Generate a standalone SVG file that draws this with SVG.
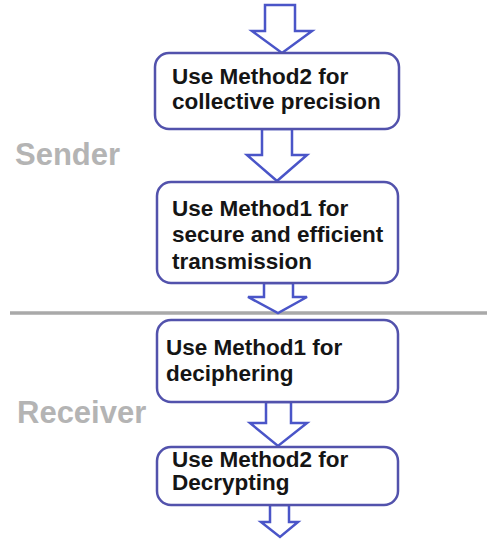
<svg xmlns="http://www.w3.org/2000/svg" width="487" height="540" viewBox="0 0 487 540">
<style>
.box{fill:#fff;stroke:#5252ac;stroke-width:2.5}
.arr{fill:#fff;stroke:#4a55c8;stroke-width:2.5;stroke-linejoin:miter}
.t{font-family:"Liberation Sans",Arial,sans-serif;font-weight:bold;font-size:22.5px;fill:#151515}
.lbl{font-family:"Liberation Sans",Arial,sans-serif;font-weight:bold;font-size:31px;fill:#b4b4b4}
</style>
<rect width="487" height="540" fill="#fff"/>
<line x1="10" y1="313" x2="487" y2="313" stroke="#a9a9a9" stroke-width="3.5"/>
<text class="lbl" x="15" y="165">Sender</text>
<text class="lbl" x="17" y="423">Receiver</text>
<g id="connectors">
<path class="arr" d="M265,5 H295 V31 H312 L282,53 L252,31 H265 Z"/>
<path class="arr" d="M262,129 H292 V155 H307 L277,181 L247,155 H262 Z"/>
<path class="arr" d="M264,283 H293 V297 H307 L278,313 L248,297 H264 Z"/>
<path class="arr" d="M266,402 H291 V423 H307 L278,446 L250,423 H266 Z"/>
<path class="arr" d="M270,505 H289 V522 H298 L280,537 L261,522 H270 Z"/>
</g>
<g id="n1">
<rect class="box" x="155" y="53" width="244" height="76" rx="14"/>
<text class="t" x="172" y="84">Use Method2 for</text>
<text class="t" x="172" y="109">collective precision</text>
</g>
<g id="n2">
<rect class="box" x="157" y="182" width="241" height="101" rx="14"/>
<text class="t" x="172" y="216">Use Method1 for</text>
<text class="t" x="172" y="242">secure and efficient</text>
<text class="t" x="172" y="269">transmission</text>
</g>
<g id="n3">
<rect class="box" x="157" y="320" width="241" height="82" rx="14"/>
<text class="t" x="166" y="355">Use Method1 for</text>
<text class="t" x="166" y="381">deciphering</text>
</g>
<g id="n4">
<rect class="box" x="157" y="447" width="241" height="58" rx="14"/>
<text class="t" x="172" y="467">Use Method2 for</text>
<text class="t" x="172" y="490">Decrypting</text>
</g>
</svg>
